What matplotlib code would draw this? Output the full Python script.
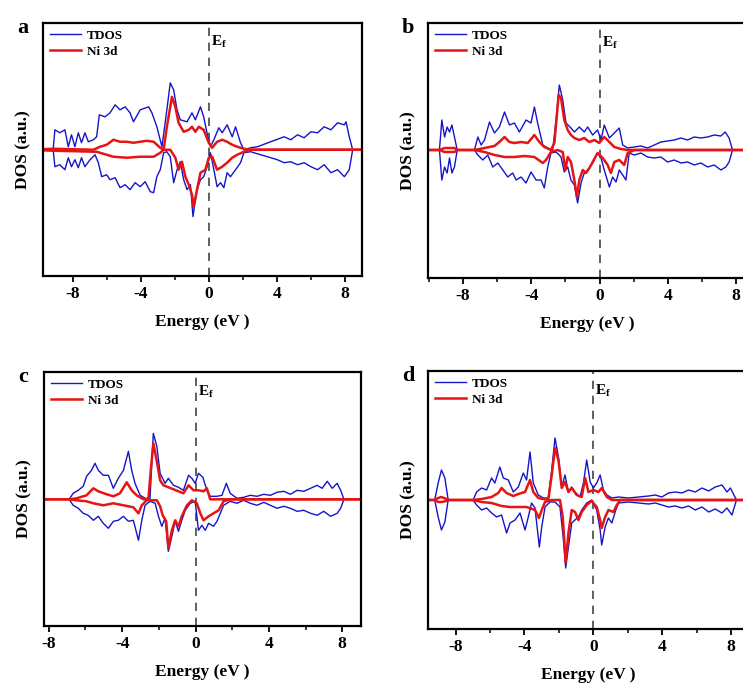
import matplotlib
matplotlib.use("Agg")
import matplotlib.pyplot as plt
from matplotlib.ticker import MultipleLocator

plt.rcParams['font.family'] = ['Liberation Serif', 'DejaVu Serif']
plt.rcParams['font.weight'] = 'bold'
plt.rcParams['axes.unicode_minus'] = False
plt.rcParams['mathtext.fontset'] = 'custom'
plt.rcParams['mathtext.rm'] = 'Liberation Serif:bold'
plt.rcParams['mathtext.bf'] = 'Liberation Serif:bold'
plt.rcParams['mathtext.it'] = 'Liberation Serif:bold'

# ---------------- panel a ----------------
a_tdos_up_E = [-9.17,-9.07,-8.78,-8.48,-8.28,-8.09,-7.89,-7.69,-7.50,-7.30,-7.10,-6.80,-6.61,-6.45,-6.11,-5.82,-5.52,-5.23,-4.93,-4.64,-4.44,-4.04,-3.55,-3.35,-3.06,-2.76,-2.47,-2.27,-2.07,-1.87,-1.68,-1.28,-0.99,-0.79,-0.49,-0.30,-0.06,0.10,0.30,0.59,0.79,1.08,1.38,1.58,1.87,2.07,2.47,2.86,3.65,4.44,4.83,5.23,5.62,6.02,6.41,6.80,7.20,7.59,7.99,8.09,8.28,8.48]
a_tdos_up = [0,20,17,20,3,15,3,17,7,17,8,10,13,35,33,37,45,40,43,37,28,40,43,37,23,3,40,67,60,40,30,28,37,30,43,33,13,3,10,22,17,25,13,23,7,0,2,3,8,13,10,15,12,18,17,23,20,27,25,28,13,0]
a_tdos_dn_E = [-9.17,-9.07,-8.78,-8.48,-8.28,-8.09,-7.89,-7.69,-7.50,-7.30,-7.00,-6.70,-6.51,-6.31,-6.02,-5.82,-5.52,-5.23,-4.93,-4.64,-4.34,-4.04,-3.75,-3.45,-3.25,-3.06,-2.86,-2.66,-2.47,-2.27,-2.07,-1.87,-1.68,-1.48,-1.28,-1.08,-0.93,-0.85,-0.69,-0.49,-0.30,-0.10,0.10,0.30,0.49,0.69,0.89,1.08,1.28,1.58,1.87,2.07,2.47,3.06,3.65,4.04,4.44,4.83,5.23,5.62,6.02,6.41,6.80,7.20,7.59,7.99,8.28,8.48]
a_tdos_dn = [0,-17,-15,-20,-8,-17,-10,-18,-8,-17,-10,-5,-13,-27,-25,-30,-28,-38,-35,-40,-33,-37,-32,-42,-43,-27,-20,-3,-2,-7,-33,-20,-12,-30,-40,-35,-67,-57,-40,-30,-27,-17,-3,-20,-37,-33,-38,-23,-27,-20,-13,-3,-2,-5,-8,-10,-13,-12,-15,-13,-17,-20,-15,-23,-20,-27,-20,0]
a_ni_up_E = [-10.5,-9.17,-6.80,-6.41,-6.02,-5.62,-5.23,-4.83,-4.44,-4.04,-3.65,-3.25,-2.86,-2.66,-2.47,-2.17,-1.97,-1.78,-1.48,-1.18,-0.99,-0.79,-0.59,-0.30,0.00,0.20,0.49,0.79,1.08,1.38,1.68,2.07,2.47,10.5]
a_ni_up = [0,1,0,3,5,10,8,8,7,8,9,8,2,0,23,53,43,27,18,20,23,18,23,20,7,2,8,10,8,5,3,1,0,0]
a_ni_dn_E = [-10.5,-9.17,-6.61,-6.02,-5.62,-4.83,-4.04,-3.25,-2.86,-2.66,-2.27,-1.97,-1.78,-1.58,-1.38,-1.18,-0.99,-0.89,-0.73,-0.49,-0.20,0.00,0.20,0.49,0.79,1.08,1.38,1.68,2.07,2.47,10.5]
a_ni_dn = [0,-1,-2,-5,-7,-8,-7,-7,-3,0,0,-8,-20,-12,-27,-35,-45,-57,-43,-23,-20,-8,-7,-20,-17,-13,-8,-5,-2,0,0]

# ---------------- panel b ----------------
b_tdos_up_E = [-9.38,-9.24,-9.08,-8.93,-8.79,-8.65,-8.50,-8.34,-7.33,-7.13,-6.94,-6.74,-6.45,-6.16,-5.87,-5.57,-5.28,-4.99,-4.70,-4.31,-4.02,-3.82,-3.63,-3.33,-3.04,-2.75,-2.55,-2.36,-2.16,-1.97,-1.68,-1.48,-1.19,-0.90,-0.70,-0.41,-0.12,0.08,0.27,0.57,0.86,1.15,1.35,1.64,2.03,2.42,2.81,3.20,3.59,3.98,4.37,4.76,5.15,5.54,5.93,6.32,6.71,7.10,7.35,7.58,7.78]
b_tdos_up = [0,30,13,23,18,25,13,0,0,13,5,10,28,17,23,38,25,27,18,30,27,43,27,5,2,0,30,65,50,27,22,18,23,18,23,15,20,10,25,12,17,22,5,2,3,4,2,5,8,9,10,12,10,13,12,13,15,14,18,12,0]
b_tdos_dn_E = [-9.38,-9.24,-9.08,-8.93,-8.79,-8.65,-8.50,-8.34,-7.33,-7.13,-6.84,-6.55,-6.26,-5.96,-5.67,-5.38,-5.09,-4.89,-4.60,-4.31,-4.02,-3.72,-3.43,-3.24,-3.04,-2.85,-2.55,-2.26,-2.07,-1.87,-1.68,-1.48,-1.29,-1.09,-0.90,-0.70,-0.41,-0.12,0.08,0.27,0.57,0.76,0.96,1.15,1.35,1.54,1.73,2.03,2.42,2.81,3.20,3.59,3.98,4.37,4.76,5.15,5.54,5.93,6.32,6.71,7.10,7.39,7.58,7.78]
b_tdos_dn = [0,-30,-17,-23,-8,-23,-17,0,0,-5,-10,-5,-17,-13,-20,-27,-23,-30,-27,-33,-22,-30,-30,-38,-17,-3,-2,-7,-22,-17,-30,-35,-53,-33,-23,-20,-13,-3,-8,-20,-37,-27,-32,-20,-25,-30,-3,-5,-3,-7,-8,-7,-12,-10,-13,-12,-15,-13,-17,-15,-20,-17,-12,0]
b_ni_up_E = [-10.5,-9.38,-9.08,-8.50,-8.34,-7.33,-6.74,-6.16,-5.87,-5.57,-5.28,-4.99,-4.60,-4.21,-3.82,-3.53,-3.24,-2.85,-2.65,-2.40,-2.26,-2.07,-1.87,-1.68,-1.48,-1.19,-0.90,-0.60,-0.31,-0.02,0.27,0.57,0.86,1.25,1.64,10.5]
b_ni_up = [0,0,2,2,0,0,2,4,8,13,8,7,8,7,15,8,3,0,7,55,52,30,20,15,12,10,12,8,10,7,13,8,3,1,0,0]
b_ni_dn_E = [-10.5,-9.38,-9.08,-8.50,-8.34,-7.33,-6.74,-6.16,-5.57,-4.99,-4.41,-3.82,-3.33,-3.14,-2.85,-2.46,-2.16,-2.01,-1.87,-1.68,-1.48,-1.33,-1.19,-0.99,-0.80,-0.60,-0.41,-0.12,0.18,0.47,0.66,0.86,1.15,1.44,1.64,2.03,10.5]
b_ni_dn = [0,0,-2,-2,0,0,-2,-5,-7,-7,-6,-7,-13,-10,-2,0,-2,-20,-7,-12,-30,-47,-30,-20,-23,-18,-12,-3,-8,-15,-23,-12,-10,-15,-3,0,0]

# ---------------- panel c ----------------
c_tdos_up_E = [-6.89,-6.67,-6.39,-6.12,-5.94,-5.67,-5.48,-5.30,-5.03,-4.75,-4.48,-4.21,-3.93,-3.66,-3.48,-3.30,-3.02,-2.75,-2.48,-2.30,-2.11,-1.93,-1.66,-1.48,-1.20,-0.93,-0.66,-0.38,-0.20,-0.02,0.16,0.40,0.62,0.80,1.17,1.44,1.68,1.89,2.26,2.62,2.99,3.35,3.72,4.08,4.44,4.81,5.17,5.54,5.90,6.27,6.63,6.90,7.18,7.45,7.72,7.91,8.09]
c_tdos_up = [0,6,9,13,23,29,36,29,24,24,11,21,29,48,29,16,4,1,1,66,53,26,16,21,14,12,9,24,21,16,26,22,9,3,3,4,16,6,1,2,4,3,5,4,7,8,5,9,8,11,14,11,18,11,16,9,0]
c_tdos_dn_E = [-6.89,-6.67,-6.39,-6.12,-5.85,-5.57,-5.30,-5.03,-4.75,-4.48,-4.21,-3.93,-3.66,-3.39,-3.11,-2.93,-2.75,-2.48,-2.20,-2.02,-1.84,-1.66,-1.48,-1.29,-1.11,-0.93,-0.75,-0.56,-0.29,-0.02,0.16,0.35,0.53,0.71,0.98,1.17,1.35,1.53,1.89,2.26,2.62,2.99,3.35,3.72,4.08,4.44,4.81,5.17,5.54,5.90,6.27,6.63,6.99,7.36,7.72,7.91,8.09]
c_tdos_dn = [0,-6,-9,-14,-16,-21,-17,-24,-29,-22,-21,-17,-22,-21,-41,-21,-6,-2,-4,-17,-27,-19,-52,-37,-22,-32,-21,-11,-4,-2,-31,-26,-31,-24,-27,-22,-14,-6,-2,-4,-1,-4,-6,-3,-6,-9,-7,-9,-12,-11,-14,-16,-12,-17,-14,-9,0]
c_ni_up_E = [-10.5,-6.89,-6.48,-5.94,-5.57,-5.30,-4.84,-4.48,-4.12,-3.75,-3.48,-3.21,-2.84,-2.57,-2.44,-2.30,-2.11,-1.93,-1.75,-1.48,-1.20,-0.93,-0.66,-0.38,-0.11,0.16,0.44,0.62,0.80,1.89,10.5]
c_ni_up = [0,0,1,4,11,8,5,3,6,17,9,4,0,0,29,56,38,19,14,12,10,8,6,14,9,9,8,11,0,0,0]
c_ni_dn_E = [-10.5,-6.89,-6.48,-5.94,-5.57,-5.03,-4.48,-3.93,-3.39,-3.11,-2.93,-2.66,-2.11,-1.93,-1.79,-1.60,-1.48,-1.29,-1.11,-0.93,-0.75,-0.47,-0.20,0.07,0.26,0.44,0.71,0.98,1.26,1.53,1.89,10.5]
c_ni_dn = [0,0,-1,-2,-4,-6,-4,-6,-8,-14,-6,-1,-1,-7,-16,-22,-49,-31,-21,-27,-17,-6,-1,-4,-14,-21,-17,-14,-11,-2,0,0]

# ---------------- panel d ----------------
d_tdos_up_E = [-9.21,-9.01,-8.82,-8.62,-8.43,-6.98,-6.78,-6.49,-6.20,-5.91,-5.72,-5.43,-5.23,-4.94,-4.65,-4.36,-4.07,-3.88,-3.68,-3.49,-3.20,-2.91,-2.62,-2.42,-2.23,-2.03,-1.84,-1.65,-1.45,-1.26,-1.07,-0.78,-0.58,-0.39,-0.19,0.00,0.19,0.39,0.58,0.78,1.07,1.45,2.03,2.62,3.20,3.59,3.97,4.36,4.75,5.14,5.52,5.91,6.30,6.69,7.07,7.46,7.75,7.95,8.30]
d_tdos_up = [0,17,30,22,0,0,8,12,10,22,17,33,22,20,8,13,27,20,48,17,5,2,2,30,62,43,13,25,8,13,8,3,17,40,18,12,17,25,10,5,2,3,2,3,4,5,3,7,8,7,10,8,12,9,13,15,8,12,0]
d_tdos_dn_E = [-9.21,-9.01,-8.82,-8.62,-8.43,-6.98,-6.78,-6.49,-6.20,-5.91,-5.62,-5.33,-5.04,-4.84,-4.55,-4.26,-3.97,-3.78,-3.59,-3.39,-3.14,-3.00,-2.81,-2.52,-2.23,-1.94,-1.74,-1.61,-1.45,-1.26,-1.07,-0.87,-0.68,-0.39,-0.10,0.19,0.39,0.48,0.68,0.87,1.07,1.26,1.45,2.03,2.62,3.20,3.59,3.97,4.36,4.75,5.14,5.52,5.91,6.30,6.69,7.07,7.46,7.75,8.04,8.30]
d_tdos_dn = [0,-17,-30,-22,0,0,-5,-10,-8,-13,-17,-15,-33,-23,-20,-13,-30,-17,-3,-8,-47,-27,-7,-2,-2,-7,-40,-68,-47,-23,-20,-17,-10,-3,0,-10,-30,-45,-27,-18,-23,-12,-3,-2,-3,-4,-3,-5,-7,-6,-8,-6,-10,-7,-12,-9,-13,-8,-15,0]
d_ni_up_E = [-10.5,-9.21,-9.01,-8.82,-8.53,-8.43,-6.98,-6.49,-5.91,-5.52,-5.33,-5.04,-4.65,-4.36,-3.97,-3.68,-3.49,-3.20,-2.62,-2.42,-2.23,-2.03,-1.84,-1.65,-1.45,-1.26,-0.97,-0.68,-0.48,-0.29,0.00,0.29,0.48,0.78,1.07,10.5]
d_ni_up = [0,0,2,3,1,0,0,1,3,7,12,7,4,6,8,20,8,2,0,25,52,40,12,18,8,12,5,3,22,8,10,8,12,3,0,0]
d_ni_dn_E = [-10.5,-9.21,-9.01,-8.82,-8.53,-8.43,-6.98,-6.49,-5.91,-5.33,-4.84,-4.36,-3.88,-3.39,-3.16,-3.00,-2.81,-2.42,-1.94,-1.78,-1.61,-1.45,-1.26,-1.07,-0.87,-0.68,-0.39,-0.10,0.19,0.39,0.48,0.68,0.87,1.16,1.36,1.55,10.5]
d_ni_dn = [0,0,-2,-2,-1,0,0,-2,-3,-6,-7,-7,-7,-10,-18,-10,-2,0,0,-17,-62,-33,-10,-12,-20,-12,-5,-1,-7,-20,-28,-17,-10,-12,-5,0,0]

panel_letters = ['a', 'b', 'c', 'd']
xticks = [-8, -4, 0, 4, 8]
legend_labels = ['TDOS', 'Ni 3d']
xlabel_text = 'Energy (eV )'
ylabel_text = 'DOS (a.u.)'

panels = [
    dict(tu=(a_tdos_up_E, a_tdos_up), td=(a_tdos_dn_E, a_tdos_dn),
         nu=(a_ni_up_E, a_ni_up), nd=(a_ni_dn_E, a_ni_dn),
         pos=(43, 23, 319, 253), xlim=(-9.77, 9.03), ylim=(-126.5, 127)),
    dict(tu=(b_tdos_up_E, b_tdos_up), td=(b_tdos_dn_E, b_tdos_dn),
         nu=(b_ni_up_E, b_ni_up), nd=(b_ni_dn_E, b_ni_dn),
         pos=(428, 23, 318, 255), xlim=(-10.05, 8.57), ylim=(-128, 127)),
    dict(tu=(c_tdos_up_E, c_tdos_up), td=(c_tdos_dn_E, c_tdos_dn),
         nu=(c_ni_up_E, c_ni_up), nd=(c_ni_dn_E, c_ni_dn),
         pos=(44, 372, 317, 254), xlim=(-8.26, 9.02), ylim=(-126.7, 127.3)),
    dict(tu=(d_tdos_up_E, d_tdos_up), td=(d_tdos_dn_E, d_tdos_dn),
         nu=(d_ni_up_E, d_ni_up), nd=(d_ni_dn_E, d_ni_dn),
         pos=(428, 371, 320, 258), xlim=(-9.6, 8.97), ylim=(-129, 129)),
]

W, H = 743, 688
fig = plt.figure(figsize=(W / 100, H / 100), dpi=100)

blue = '#1515c8'
red = '#e61414'

for letter, p in zip(panel_letters, panels):
    l, t, w, h = p['pos']
    ax = fig.add_axes([l / W, 1 - (t + h) / H, w / W, h / H])
    ln1, = ax.plot(*p['tu'], color=blue, lw=1.0, label=legend_labels[0])
    ax.plot(*p['td'], color=blue, lw=1.0)
    ln2, = ax.plot(*p['nu'], color=red, lw=1.8, label=legend_labels[1])
    ax.plot(*p['nd'], color=red, lw=1.8)
    ax.axvline(0, color='#444444', lw=1.2, ls=(0, (5, 4)), zorder=1)
    ax.set_xlim(*p['xlim'])
    ax.set_ylim(*p['ylim'])
    ax.set_xticks(xticks)
    ax.xaxis.set_minor_locator(MultipleLocator(2))
    ax.set_yticks([])
    ax.tick_params(axis='x', which='major', direction='out', length=4, width=1.3,
                   labelsize=12.5, pad=3)
    ax.tick_params(axis='x', which='minor', direction='out', length=3, width=1.1)
    for lab in ax.get_xticklabels():
        lab.set_fontweight('bold')
    for s in ax.spines.values():
        s.set_linewidth(1.6)
    ax.set_xlabel(xlabel_text, fontsize=12.5, fontweight='bold', labelpad=9)
    ax.set_ylabel(ylabel_text, fontsize=12.5, fontweight='bold', labelpad=8)
    leg = ax.legend(handles=[ln1, ln2], loc='upper left', frameon=False,
                    fontsize=9.5, handlelength=2.4, handletextpad=0.4,
                    labelspacing=0.3, borderaxespad=0.2, borderpad=0.3)
    for txt in leg.get_texts():
        txt.set_fontweight('bold')
    ax.text(0.12, 0.955, r'$\mathbf{E}_{\mathbf{f}}$', transform=ax.get_xaxis_transform(),
            fontsize=11, ha='left', va='top')
    fig.text((l - 26) / W, 1 - (t - 5) / H, letter, fontsize=16, fontweight='bold',
             ha='left', va='top')

fig.savefig('out.png', dpi=100)
